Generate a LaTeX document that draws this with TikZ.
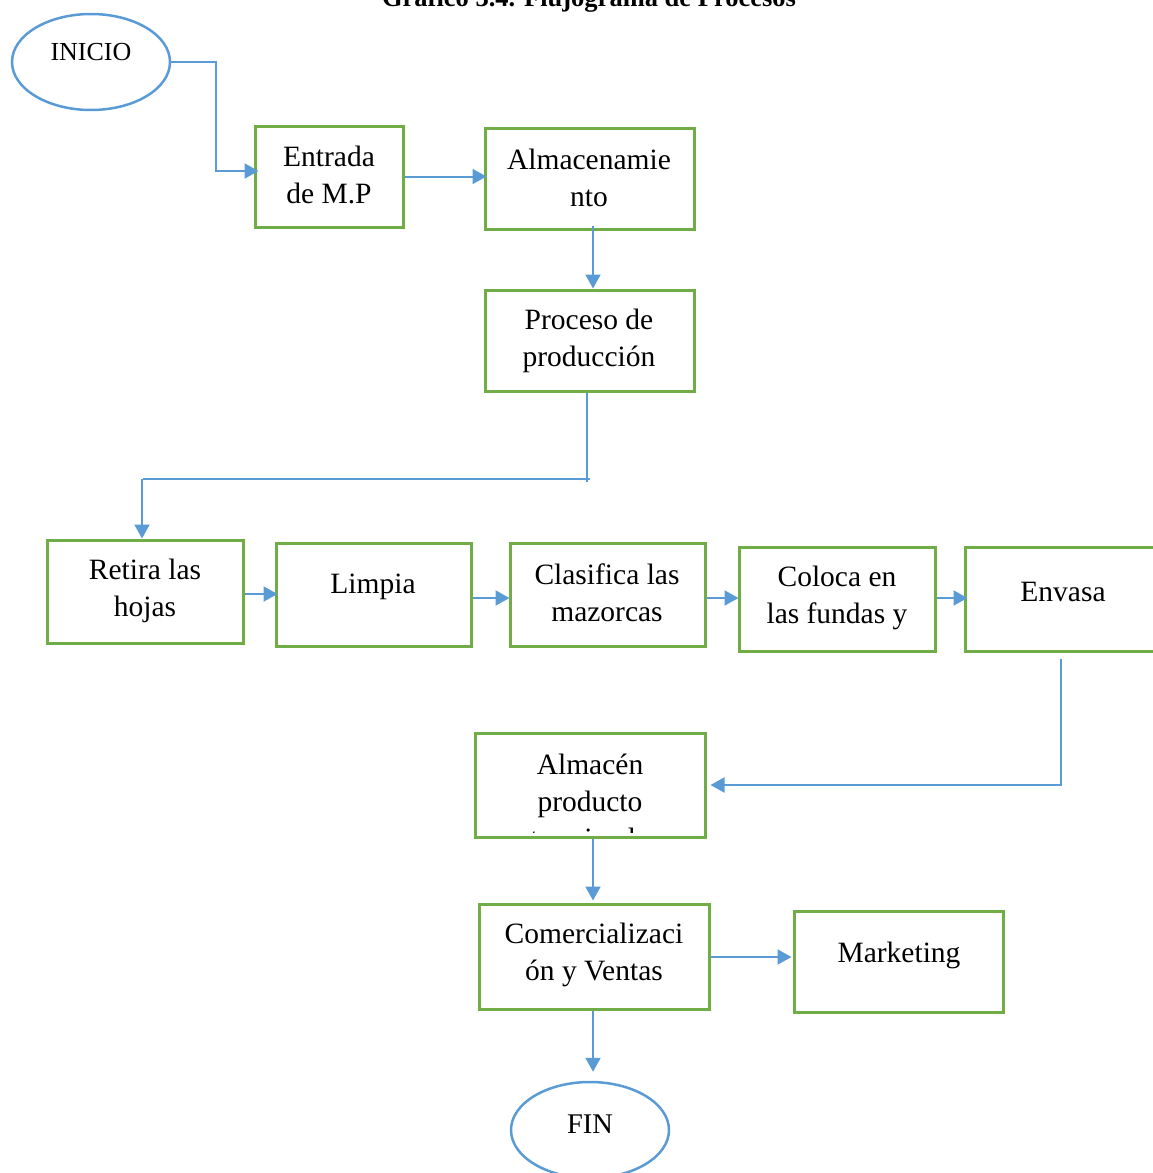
\documentclass[tikz,border=0pt]{standalone}
\usepackage{fontspec}
\setmainfont{Liberation Serif}
\usetikzlibrary{shapes.geometric,arrows.meta,calc}
\definecolor{lineblue}{RGB}{91,155,213}
\definecolor{boxgreen}{RGB}{112,173,71}
\begin{document}
\begin{tikzpicture}[x=1pt,y=-1pt,
  box/.style={draw=boxgreen,line width=3pt,rectangle,inner sep=0pt},
  oval/.style={draw=lineblue,line width=2.5pt,ellipse,inner sep=0pt},
  txt/.style={font=\fontsize{29.5}{37}\selectfont,align=center,inner sep=0pt},
  ovaltxt/.style={font=\fontsize{26}{32}\selectfont,inner sep=0pt},
  arr/.style={draw=lineblue,line width=2pt,-{Triangle[length=14pt,width=15pt]}},
  conn/.style={draw=lineblue,line width=1.5pt}]
\useasboundingbox (0,0) rectangle (1153,1173);
\clip (0,0) rectangle (1153,1173);

% title (cut off at the top, as in the reference)
\node[font=\bfseries\fontsize{26.5}{30}\selectfont,anchor=base,inner sep=0pt] (title) at (589,6) {Gráfico 3.4. Flujograma de Procesos};

% shapes
\node[oval,minimum width=158pt,minimum height=96pt] (inicio) at (91,62) {};
\node[box,minimum width=148pt,minimum height=101pt] (entrada) at (329,176.5) {};
\node[box,minimum width=209pt,minimum height=101pt] (almac) at (589.5,178.5) {};
\node[box,minimum width=209pt,minimum height=101pt] (proceso) at (589.5,340.5) {};
\node[box,minimum width=196pt,minimum height=103pt] (retira) at (145,591.5) {};
\node[box,minimum width=195pt,minimum height=103pt] (limpia) at (373.5,594.5) {};
\node[box,minimum width=195pt,minimum height=103pt] (clasifica) at (607.5,594.5) {};
\node[box,minimum width=196pt,minimum height=104pt] (coloca) at (837,599) {};
\node[box,minimum width=196pt,minimum height=104pt] (envasa) at (1063,599) {};
\node[box,minimum width=230pt,minimum height=104pt] (almacen) at (590,785) {};
\node[box,minimum width=230pt,minimum height=105pt] (comerc) at (594,956.5) {};
\node[box,minimum width=209pt,minimum height=101pt] (marketing) at (898.5,961.5) {};
\node[oval,minimum width=158pt,minimum height=96pt] (fin) at (590,1130) {};

% texts
\node[ovaltxt] (tinicio) at (91,52) {INICIO};
\node[txt] (tentrada) at (329,175) {Entrada\\de M.P};
\node[txt] (talmac) at (589,178) {Almacenamie\\nto};
\node[txt] (tproceso) at (589,340.5) {Proceso de\\producción};
\node[txt] (tretira) at (145,591) {Retira las\\hojas};
\node[txt] (tlimpia) at (373,587) {Limpia};
\node[txt] (tclasifica) at (607,593) {Clasifica las\\mazorcas};
\node[txt] (tcoloca) at (837,598) {Coloca en\\las fundas y};
\node[txt] (tenvasa) at (1063,592) {Envasa};
\begin{scope}
  \clip (almacen.north west) rectangle ($(almacen.south east)+(0,-6)$);
  \node[txt] (talmacen) at (590,801) {Almacén\\producto\\terminado};
\end{scope}
\node[txt] (tcomerc) at (594,955) {Comercializaci\\ón y Ventas};
\node[txt] (tmarketing) at (899,955) {Marketing};
\node[ovaltxt,font=\fontsize{28.5}{37}\selectfont] (tfin) at (590,1124) {FIN};

% connectors
\draw[arr] (inicio.east) -- (216,62) |- ($(entrada.west)+(5,-5.5)$);
\draw[arr] (entrada.east) -- ($(entrada.east -| almac.west)+(3,0)$);
\draw[arr] ($(almac.south)+(3.5,-5)$) -- ($(proceso.north)+(3.5,0)$);
\draw[conn] ($(proceso.south)+(-2.5,0)$) -- ($(proceso.south)+(-2.5,89)$);
\draw[conn] ($(proceso.south)+(0.5,86.5)$) -- ($(proceso.south)+(-447,86.5)$);
\draw[arr] ($(proceso.south)+(-447.5,86)$) -- ($(retira.north)+(-3,0)$);
\draw[arr] (retira.east |- 0,594) -- ($(limpia.west |- 0,594)+(3,0)$);
\draw[arr] (limpia.east |- 0,598) -- ($(clasifica.west |- 0,598)+(1,0)$);
\draw[arr] (clasifica.east |- 0,598) -- ($(coloca.west |- 0,598)+(1,0)$);
\draw[arr] (coloca.east |- 0,598) -- ($(envasa.west |- 0,598)+(4,0)$);
\draw[arr] ($(envasa.south)+(-2,6)$) |- ($(almacen.east)+(4,0)$);
\draw[arr] (almacen.south -| 593,0) -- ($(comerc.north -| 593,0)+(0,-2)$);
\draw[arr] (comerc.east |- 0,957) -- ($(marketing.west |- 0,957)+(-1,0)$);
\draw[arr] (comerc.south -| 593,0) -- ($(fin.north -| 593,0)+(0,-9)$);
\end{tikzpicture}
\end{document}
